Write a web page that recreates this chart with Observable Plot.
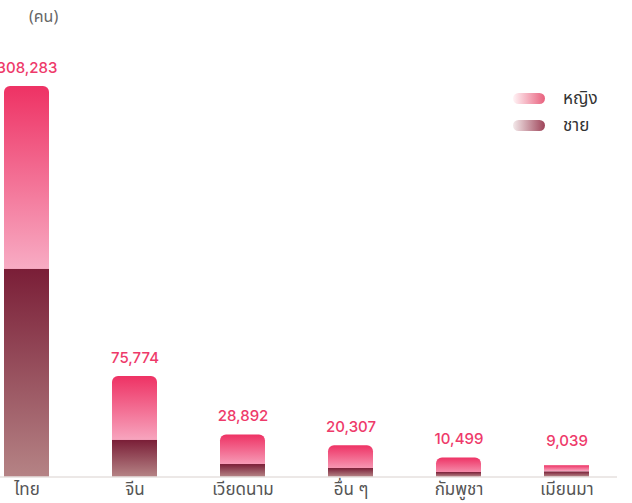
<!DOCTYPE html>
<html>
<head>
<meta charset="utf-8">
<script src="https://cdn.jsdelivr.net/npm/d3@7"></script>
<script src="https://cdn.jsdelivr.net/npm/@observablehq/plot@0.6"></script>
<style>
  html, body { margin: 0; padding: 0; background: #fff; }
  #wrap { position: relative; width: 632px; height: 503px; overflow: hidden; font-family: "Noto Sans Thai", "Noto Sans", sans-serif; }
  #unit { position: absolute; left: 29px; top: 5px; font-size: 16px; color: #666; }
  #legend { position: absolute; left: 513px; top: 85px; font-size: 17px; color: #333; }
  .item { display: flex; align-items: center; height: 27px; }
  .pill { width: 32px; height: 11px; border-radius: 6px; margin-right: 18px; }
</style>
</head>
<body>
<div id="wrap">
  <div id="chart"></div>
  <div id="unit">(คน)</div>
  <div id="legend">
    <div class="item"><div class="pill" style="background: linear-gradient(to right, #fff4f6, #e8607d);"></div><span>หญิง</span></div>
    <div class="item"><div class="pill" style="background: linear-gradient(to right, #f3e9ea, #9e4459);"></div><span>ชาย</span></div>
  </div>
</div>
<script>
const categories = ["ไทย", "จีน", "เวียดนาม", "อื่น ๆ", "กัมพูชา", "เมียนมา"];
const totals = [308283, 75774, 28892, 20307, 10499, 9039];
const male = [166400, 29300, 10000, 6800, 3600, 4000];
const female = [141883, 46474, 18892, 13507, 6899, 5039];

const rows = categories.map((c, i) => ({cat: c, total: totals[i], male: male[i], female: female[i]}));
const fmt = d3.format(",");

const plot = Plot.plot({
  width: 632,
  height: 503,
  marginLeft: 0,
  marginRight: 15,
  marginTop: 0,
  marginBottom: 26.5,
  style: {fontFamily: "'Noto Sans Thai', 'Noto Sans', sans-serif", fontSize: "17px", color: "#555", background: "transparent"},
  x: {type: "band", domain: categories, range: [1.5, 591.5], paddingInner: 0.587, paddingOuter: 0, label: null},
  y: {domain: [0, 308283], range: [476.5, 92], axis: null},
  marks: [
    Plot.rectY(rows.filter(d => d.female > 6000), {x: "cat", y1: "male", y2: "total", fill: "url(#gFemale)", insetTop: -6, insetBottom: -6, rx: 6, clip: "frame"}),
    Plot.rectY(rows.filter(d => d.female <= 6000), {x: "cat", y1: "male", y2: "total", fill: "url(#gFemale)"}),
    Plot.rectY(rows, {x: "cat", y1: 0, y2: "male", fill: "url(#gMale)"}),
    Plot.ruleY([0], {stroke: "#d9d1ce", strokeWidth: 1}),
    Plot.text(rows, {x: "cat", y: "total", text: d => fmt(d.total), dy: -24.5, fill: "#ee3a6a", fontSize: 15, fontWeight: 500, fontFamily: "Inter, sans-serif"}),
    Plot.axisX({tickSize: 0, tickPadding: 6, fontSize: 17, fill: "#555"})
  ]
});

plot.insertAdjacentHTML("afterbegin", `<defs>
  <linearGradient id="gFemale" x1="0" y1="0" x2="0" y2="1">
    <stop offset="0" stop-color="#ee3264"/>
    <stop offset="1" stop-color="#f8b0c7"/>
  </linearGradient>
  <linearGradient id="gMale" x1="0" y1="0" x2="0" y2="1">
    <stop offset="0" stop-color="#7a1e37"/>
    <stop offset="1" stop-color="#b58385"/>
  </linearGradient>
</defs>`);

document.getElementById("chart").append(plot);
</script>
</body>
</html>
